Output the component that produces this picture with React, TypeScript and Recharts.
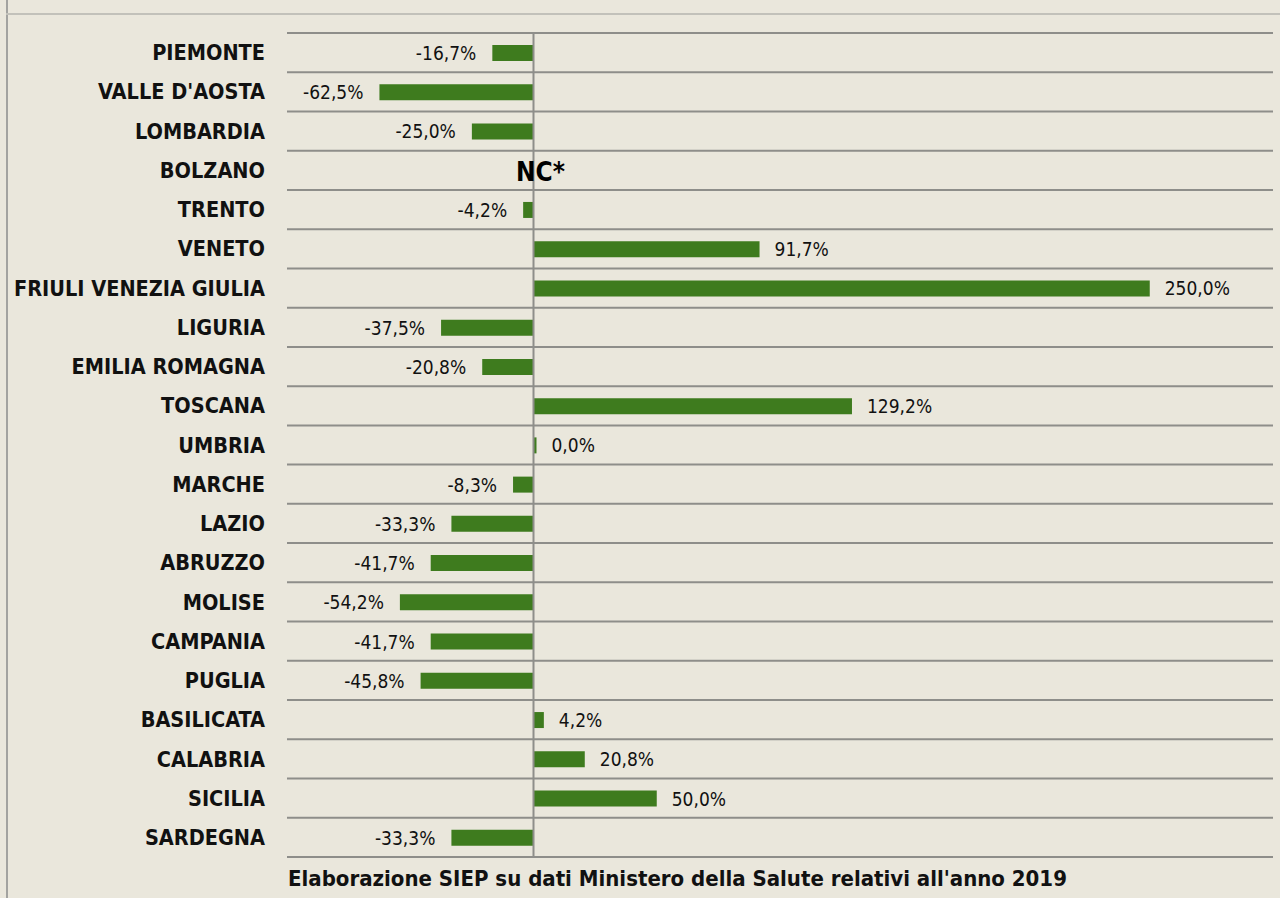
import { BarChart, Bar, XAxis, YAxis, CartesianGrid, ReferenceLine, ReferenceDot, LabelList } from 'recharts'

const regions = [
  'PIEMONTE',
  "VALLE D'AOSTA",
  'LOMBARDIA',
  'BOLZANO',
  'TRENTO',
  'VENETO',
  'FRIULI VENEZIA GIULIA',
  'LIGURIA',
  'EMILIA ROMAGNA',
  'TOSCANA',
  'UMBRIA',
  'MARCHE',
  'LAZIO',
  'ABRUZZO',
  'MOLISE',
  'CAMPANIA',
  'PUGLIA',
  'BASILICATA',
  'CALABRIA',
  'SICILIA',
  'SARDEGNA',
]

// variazione percentuale; null = non calcolabile
const values: (number | null)[] = [
  -16.7, -62.5, -25.0, null, -4.2, 91.7, 250.0, -37.5, -20.8, 129.2, 0.0, -8.3, -33.3, -41.7, -54.2,
  -41.7, -45.8, 4.2, 20.8, 50.0, -33.3,
]

const ncRegion = 'BOLZANO'
const ncText = 'NC*'
const footer = "Elaborazione SIEP su dati Ministero della Salute relativi all'anno 2019"

const FONT = '"DejaVu Sans Condensed", "DejaVu Sans", sans-serif'
const BG = '#eae7dc'
const GRID = '#8e8e8a'
const GREEN = '#3e7b1e'

const data = regions.map((region, i) => ({ region, value: values[i] }))

function fmt(v: number) {
  return v.toFixed(1).replace('.', ',') + '%'
}

function ValueLabel(props: any) {
  const { x, y, width, height, value } = props
  if (value === null || value === undefined) return null
  const left = Math.min(x, x + width)
  const right = Math.max(x, x + width)
  const neg = value < 0
  return (
    <text
      x={neg ? left - 16 : right + 15}
      y={y + height / 2}
      textAnchor={neg ? 'end' : 'start'}
      dominantBaseline="central"
      fontFamily={FONT}
      fontSize={19}
      fill="#111"
    >
      {fmt(value)}
    </text>
  )
}

export default function App() {
  return (
    <div
      style={{
        position: 'absolute',
        top: 0,
        left: 0,
        width: 1280,
        height: 898,
        background: BG,
        overflow: 'hidden',
      }}
    >
      <div style={{ position: 'absolute', left: 6, top: 0, width: 2, height: 898, background: '#a3a3a0' }} />
      <div style={{ position: 'absolute', left: 6, top: 13, width: 1274, height: 2, background: '#c2c1ba' }} />
      <BarChart
        width={1280}
        height={898}
        data={data}
        layout="vertical"
        margin={{ top: 33, right: 7, bottom: 41, left: 0 }}
        barCategoryGap={0}
      >
        <CartesianGrid
          vertical={false}
          stroke={GRID}
          strokeWidth={2}
          horizontalCoordinatesGenerator={({ offset }: any) =>
            Array.from({ length: regions.length + 1 }, (_, i) => offset.top + (i * offset.height) / regions.length)
          }
        />
        <XAxis type="number" domain={[-100, 300]} hide />
        <YAxis
          type="category"
          dataKey="region"
          width={287}
          interval={0}
          axisLine={false}
          tickLine={false}
          tickSize={0}
          tickMargin={22}
          tick={{ fontFamily: FONT, fontSize: 21.5, fontWeight: 'bold', fill: '#111' }}
        />
        <Bar dataKey="value" fill={GREEN} barSize={16} minPointSize={3} isAnimationActive={false}>
          <LabelList dataKey="value" content={ValueLabel} />
        </Bar>
        <ReferenceLine x={0} stroke={GRID} strokeWidth={2} />
        <ReferenceDot
          x={0}
          y={ncRegion}
          r={0}
          fill="none"
          stroke="none"
          label={{
            value: ncText,
            position: 'center',
            dx: 7,
            dy: 1,
            fontFamily: FONT,
            fontSize: 26,
            fontWeight: 'bold',
            fill: '#000',
          }}
        />
      </BarChart>
      <div
        style={{
          position: 'absolute',
          left: 288,
          top: 866,
          fontFamily: FONT,
          fontSize: 22,
          fontWeight: 'bold',
          color: '#111',
          whiteSpace: 'nowrap',
        }}
      >
        {footer}
      </div>
    </div>
  )
}
